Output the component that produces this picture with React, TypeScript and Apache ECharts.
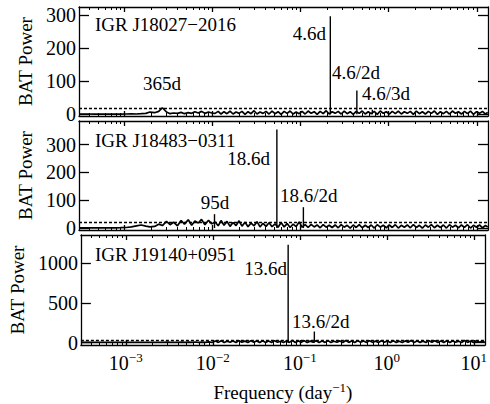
import React, { useEffect, useRef } from 'react';
import * as echarts from 'echarts';

// Frequency grid (day^-1)
const FREQ = [
  0.00031, 0.00038, 0.00046, 0.00055, 0.00065, 0.00077, 0.0009, 0.00105, 0.0012, 0.00137,
  0.00155, 0.00175, 0.00195, 0.0022, 0.00245, 0.0027, 0.003, 0.0033, 0.0036, 0.004,
  0.0044, 0.0048, 0.0053, 0.0058, 0.0063, 0.0069, 0.0075, 0.0082, 0.009, 0.0098,
  0.0107, 0.0116, 0.0125, 0.0135, 0.0146, 0.0158, 0.0171, 0.0185, 0.02, 0.0216,
  0.0234, 0.0253, 0.0274, 0.0296, 0.032, 0.0346, 0.0374, 0.0405, 0.0438, 0.0474,
  0.0513, 0.0555, 0.06, 0.065, 0.0703, 0.076, 0.0822, 0.0889, 0.0962, 0.104,
  0.1125, 0.1217, 0.1317, 0.1425, 0.154, 0.1667, 0.1803, 0.195, 0.211, 0.228,
  0.2467, 0.267, 0.2887, 0.3123, 0.3378, 0.3654, 0.3953, 0.4276, 0.4626, 0.5004,
  0.5413, 0.5856, 0.6334, 0.6852, 0.7412, 0.8018, 0.8674, 0.9383, 1.015, 1.098,
  1.188, 1.285, 1.39, 1.504, 1.627, 1.76, 1.904, 2.059, 2.228, 2.41,
  2.607, 2.82, 3.05, 3.3, 3.57, 3.862, 4.178, 4.52, 4.889, 5.289,
  5.721, 6.189, 6.695, 7.243, 7.835, 8.475, 9.168, 9.918, 10.73, 11.6,
  12.55, 13.3,
];

const POWER_J18027 = [
  1, 1, 0.5, 1, 0.5, 1, 0.5, 1, 1.5, 1,
  2, 3, 7, 5, 9, 20, 7, 2, 4, 3,
  6, 2, 5, 3, 8, 4, 9, 3, 7, 4,
  3, 9, 1, 8, 2, 10, 1, 7, 3, 9,
  0, 8, 2, 11, 1, 7, 3, 9, 1, 10,
  2, 8, 0, 9, 3, 10, 1, 7, 2, 9,
  1, 10, 3, 8, 0, 9, 2, 11, 1, 8,
  3, 9, 1, 10, 2, 8, 0, 9, 3, 10,
  1, 8, 2, 9, 0, 10, 3, 8, 1, 9,
  2, 10, 1, 8, 3, 9, 0, 10, 2, 8,
  1, 9, 3, 10, 0, 8, 2, 9, 1, 10,
  3, 8, 1, 9, 2, 10, 0, 8, 3, 9,
  1, 6,
];

const POWER_J18483 = [
  1, 1, 1, 1, 1, 1, 1.5, 2, 4, 8,
  11, 7, 4, 6, 14, 9, 24, 12, 21, 8,
  27, 14, 30, 10, 25, 18, 31, 12, 28, 15,
  22, 8, 27, 10, 24, 6, 20, 9, 26, 7,
  21, 5, 18, 8, 23, 4, 17, 6, 19, 5,
  15, 3, 20, 4, 16, 2, 14, 5, 22, 3,
  12, 2, 13, 4, 11, 1, 12, 3, 10, 2,
  11, 1, 12, 3, 10, 0, 11, 2, 12, 1,
  10, 2, 11, 0, 12, 3, 10, 1, 11, 2,
  12, 0, 10, 3, 11, 1, 12, 2, 10, 0,
  11, 3, 12, 1, 10, 2, 11, 0, 12, 3,
  10, 1, 11, 2, 12, 0, 10, 3, 11, 1,
  9, 4,
];

const POWER_J19140 = [
  3, 3, 2, 3, 2, 3, 2, 3, 3, 2,
  4, 3, 5, 2, 4, 3, 6, 2, 5, 3,
  7, 2, 6, 3, 8, 2, 7, 3, 9, 2,
  20, 3, 24, 2, 18, 5, 22, 1, 25, 4,
  19, 2, 23, 6, 21, 1, 24, 3, 20, 2,
  25, 4, 18, 1, 22, 3, 26, 2, 20, 5,
  23, 1, 19, 4, 24, 2, 21, 3, 25, 1,
  18, 4, 22, 2, 26, 3, 20, 1, 24, 5,
  21, 2, 25, 3, 19, 1, 23, 4, 20, 2,
  24, 3, 18, 1, 22, 5, 26, 2, 21, 3,
  19, 1, 25, 4, 23, 2, 20, 3, 24, 1,
  22, 5, 18, 2, 26, 3, 21, 1, 23, 4,
  20, 6,
];

// Periodic peaks: [frequency, power]
const PEAKS_J18027 = [[0.2174, 297], [0.435, 72], [0.652, 14]];
const PEAKS_J18483 = [[0.01053, 50], [0.05376, 354], [0.1075, 75]];
const PEAKS_J19140 = [[0.0735, 1237], [0.147, 140]];

const SOURCES = ['IGR J18027−2016', 'IGR J18483−0311', 'IGR J19140+0951'];
const THRESHOLDS = [18, 22, 35];
const Y_TICKS = [[0, 100, 200, 300], [0, 100, 200, 300], [0, 500, 1000]];
const Y_RANGES = [[-5, 325], [-7, 385], [-30, 1360]];
const X_MAJOR = [0.001, 0.01, 0.1, 1, 10];
const X_MIN = 3.05e-4;
const X_MAX = 13.4;

const FONT = 'Liberation Serif';

function minorTicks(): number[] {
  const out: number[] = [];
  [1e-4, 1e-3, 1e-2, 1e-1, 1, 10].forEach((d) => {
    for (let m = 2; m <= 9; m++) {
      const v = m * d;
      if (v >= X_MIN && v <= X_MAX) out.push(v);
    }
  });
  return out;
}

const X_MINOR = minorTicks();

const GRIDS = [
  { left: 79, right: 2, top: 7, height: 109 },
  { left: 79, right: 2, top: 121, height: 109 },
  { left: 79, right: 2, top: 235, height: 110 },
];

function expLabel(v: number): string {
  const e = Math.round(Math.log10(v));
  const s = e < 0 ? '−' + Math.abs(e) : String(e);
  return '{b|10}{s|' + s + '}';
}

export default function App() {
  const ref = useRef<HTMLDivElement>(null);

  useEffect(() => {
    if (!ref.current) return;
    document.body.style.margin = '0';
    const chart = echarts.init(ref.current, undefined, { renderer: 'svg' });

    const powers = [POWER_J18027, POWER_J18483, POWER_J19140];
    const peaks = [PEAKS_J18027, PEAKS_J18483, PEAKS_J19140];

    const xAxis: any[] = [];
    const yAxis: any[] = [];
    const series: any[] = [];
    const lineStyle = { color: '#000', width: 1.3 };

    for (let i = 0; i < 3; i++) {
      const last = i === 2;
      const base = {
        gridIndex: i,
        type: 'log',
        logBase: 10,
        min: X_MIN,
        max: X_MAX,
        splitLine: { show: false },
      };
      xAxis.push({
        ...base,
        position: 'bottom',
        axisLine: { show: true, onZero: false, lineStyle },
        axisTick: { show: true, inside: true, length: 5, customValues: X_MAJOR, lineStyle },
        axisLabel: {
          show: last,
          customValues: X_MAJOR,
          formatter: expLabel,
          margin: 6,
          rich: {
            b: { fontFamily: FONT, fontSize: 20, color: '#000' },
            s: { fontFamily: FONT, fontSize: 13, color: '#000', verticalAlign: 'top', padding: [0, 0, 10, 0] },
          },
        },
        name: last ? '{a|Frequency (day}{s|−1}{a|)}' : '',
        nameLocation: 'middle',
        nameGap: 36,
        nameTextStyle: {
          rich: {
            a: { fontFamily: FONT, fontSize: 19, color: '#000' },
            s: { fontFamily: FONT, fontSize: 13, color: '#000', verticalAlign: 'top', padding: [0, 0, 10, 0] },
          },
        },
      });
      xAxis.push({
        ...base,
        position: 'bottom',
        axisLine: { show: false, onZero: false },
        axisTick: { show: true, inside: true, length: 3, customValues: X_MINOR, lineStyle: { color: '#000', width: 1 } },
        axisLabel: { show: false },
      });
      xAxis.push({
        ...base,
        position: 'top',
        axisLine: { show: true, onZero: false, lineStyle },
        axisTick: { show: true, inside: true, length: 5, customValues: X_MAJOR, lineStyle },
        axisLabel: { show: false },
      });
      xAxis.push({
        ...base,
        position: 'top',
        axisLine: { show: false, onZero: false },
        axisTick: { show: true, inside: true, length: 3, customValues: X_MINOR, lineStyle: { color: '#000', width: 1 } },
        axisLabel: { show: false },
      });

      yAxis.push({
        gridIndex: i,
        type: 'value',
        position: 'left',
        min: Y_RANGES[i][0],
        max: Y_RANGES[i][1],
        splitLine: { show: false },
        axisLine: { show: true, onZero: false, lineStyle },
        axisTick: { show: true, inside: true, length: 10, customValues: Y_TICKS[i], lineStyle },
        axisLabel: {
          customValues: Y_TICKS[i],
          formatter: (v: number) => String(v),
          fontFamily: FONT,
          fontSize: 20,
          color: '#000',
          margin: 3,
        },
        name: 'BAT Power',
        nameLocation: 'middle',
        nameGap: 42,
        nameTextStyle: { fontFamily: FONT, fontSize: 19, color: '#000' },
      });
      yAxis.push({
        gridIndex: i,
        type: 'value',
        position: 'right',
        min: Y_RANGES[i][0],
        max: Y_RANGES[i][1],
        splitLine: { show: false },
        axisLine: { show: true, onZero: false, lineStyle },
        axisTick: { show: true, inside: true, length: 10, customValues: Y_TICKS[i], lineStyle },
        axisLabel: { show: false },
      });

      series.push({
        type: 'line',
        xAxisIndex: 4 * i,
        yAxisIndex: 2 * i,
        data: FREQ.map((f, k) => [f, powers[i][k]]),
        symbol: 'none',
        showSymbol: false,
        lineStyle: { color: '#000', width: 1.7 },
        markLine: {
          silent: true,
          symbol: 'none',
          label: { show: false },
          lineStyle: { color: '#000', type: [3, 2], width: 1.3 },
          data: [{ yAxis: THRESHOLDS[i] }],
        },
        z: 3,
      });
      series.push({
        type: 'bar',
        xAxisIndex: 4 * i,
        yAxisIndex: 2 * i,
        data: peaks[i],
        barWidth: 1.4,
        itemStyle: { color: '#000' },
        z: 4,
      });
    }

    const txt = (text: string, x: number, y: number, align = 'left') => ({
      type: 'text',
      x,
      y,
      style: {
        text,
        fontFamily: FONT,
        fontSize: 19,
        fill: '#000',
        align,
        textAlign: align,
        verticalAlign: 'middle',
        textVerticalAlign: 'middle',
      },
      z: 10,
    });

    chart.setOption({
      animation: false,
      backgroundColor: '#fff',
      grid: GRIDS,
      xAxis,
      yAxis,
      series,
      graphic: [
        txt(SOURCES[0], 95, 24),
        txt(SOURCES[1], 95, 140),
        txt(SOURCES[2], 95, 254),
        txt('365d', 162, 83, 'center'),
        txt('4.6d', 326, 33, 'right'),
        txt('4.6/2d', 332, 72),
        txt('4.6/3d', 362, 93),
        txt('95d', 215, 202, 'center'),
        txt('18.6d', 270, 158, 'right'),
        txt('18.6/2d', 280, 195),
        txt('13.6d', 287, 268, 'right'),
        txt('13.6/2d', 292, 321),
      ],
    });

    return () => chart.dispose();
  }, []);

  return (
    <div
      ref={ref}
      style={{ position: 'absolute', left: 0, top: 0, width: 490, height: 404, background: '#fff' }}
    />
  );
}
